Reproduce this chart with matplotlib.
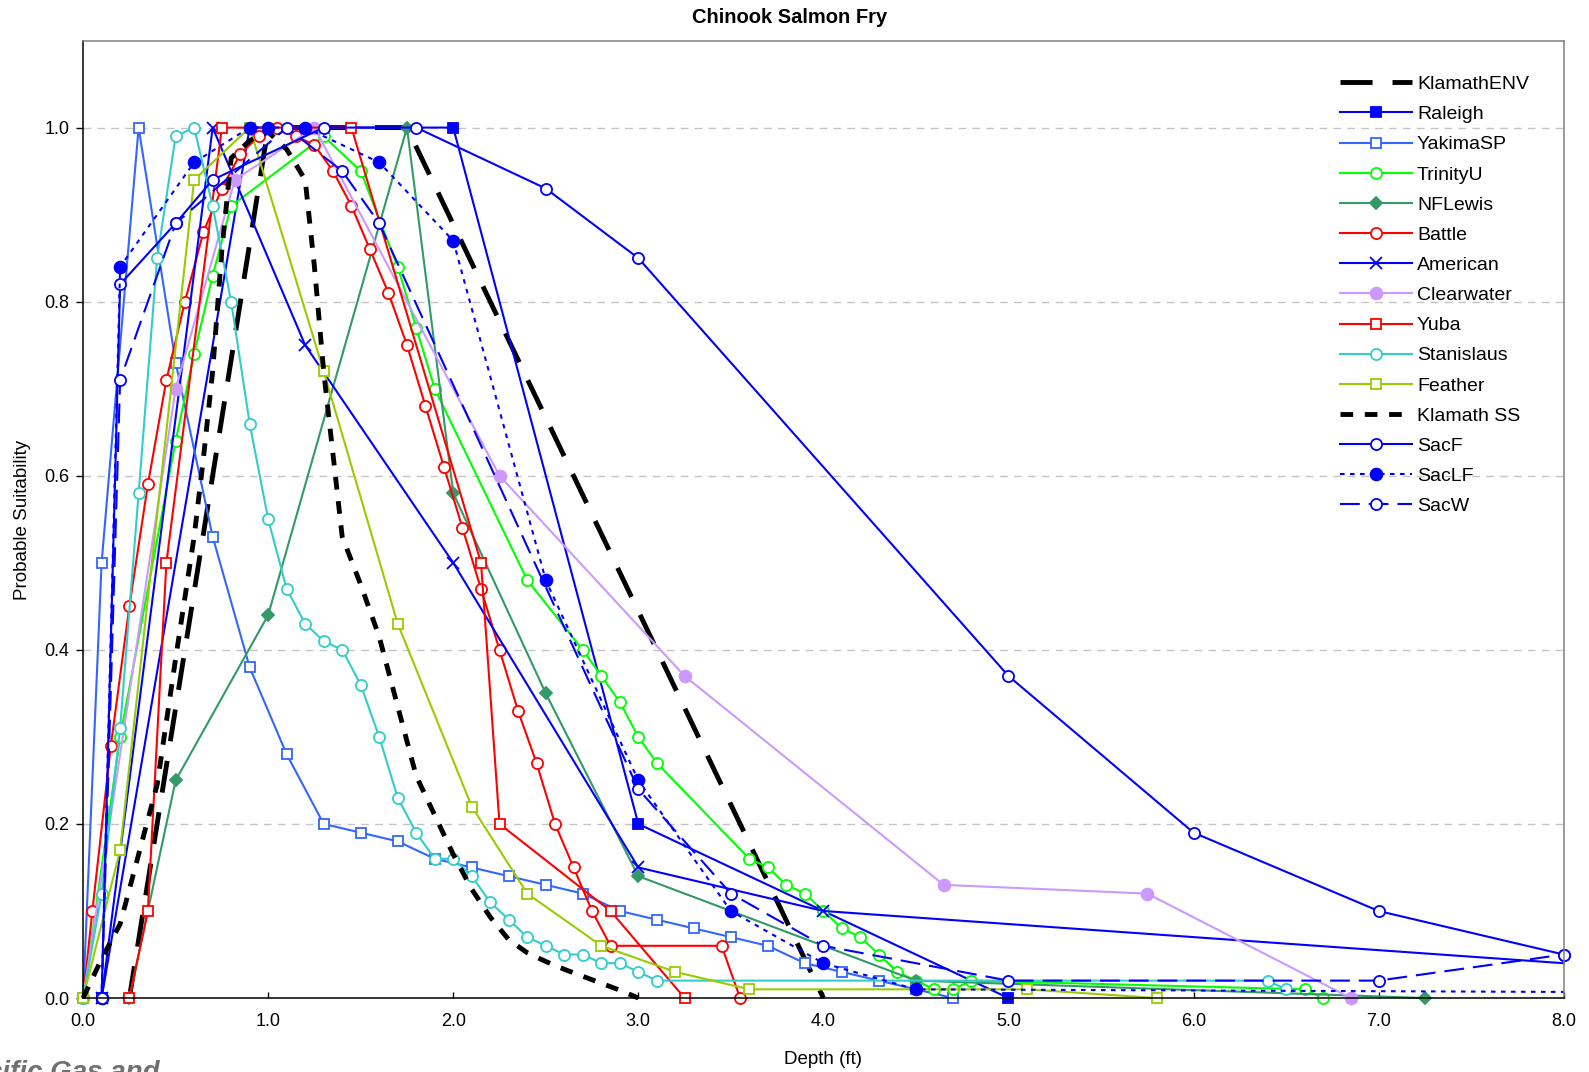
import matplotlib
matplotlib.use("Agg")
import matplotlib.pyplot as plt

plt.rcParams['font.family'] = ['Liberation Sans', 'DejaVu Sans']

# ---------------- data ----------------
klamath_env_x = [0.25, 1.0, 1.75, 4.0]
klamath_env_y = [0.0, 1.0, 1.0, 0.0]

raleigh_x = [0.1, 0.9, 2.0, 3.0, 5.0]
raleigh_y = [0.0, 1.0, 1.0, 0.2, 0.0]

yakima_x = [0.0, 0.1, 0.3, 0.5, 0.7, 0.9, 1.1, 1.3, 1.5, 1.7, 1.9, 2.1, 2.3,
            2.5, 2.7, 2.9, 3.1, 3.3, 3.5, 3.7, 3.9, 4.1, 4.3, 4.5, 4.7]
yakima_y = [0.0, 0.5, 1.0, 0.73, 0.53, 0.38, 0.28, 0.20, 0.19, 0.18, 0.16, 0.15, 0.14,
            0.13, 0.12, 0.10, 0.09, 0.08, 0.07, 0.06, 0.04, 0.03, 0.02, 0.01, 0.0]

trinity_x = [0.0, 0.2, 0.5, 0.6, 0.7, 0.8, 1.3, 1.5, 1.7, 1.8, 1.9, 2.4, 2.7, 2.8, 2.9,
             3.0, 3.1, 3.6, 3.7, 3.8, 3.9, 4.0, 4.1, 4.2, 4.3, 4.4, 4.5, 4.6, 4.7, 4.8,
             6.6, 6.7]
trinity_y = [0.0, 0.30, 0.64, 0.74, 0.83, 0.91, 0.99, 0.95, 0.84, 0.77, 0.70, 0.48, 0.40,
             0.37, 0.34, 0.30, 0.27, 0.16, 0.15, 0.13, 0.12, 0.10, 0.08, 0.07, 0.05, 0.03,
             0.02, 0.01, 0.01, 0.02, 0.01, 0.0]

nflewis_x = [0.25, 0.5, 1.0, 1.75, 2.0, 2.5, 3.0, 4.5, 7.25]
nflewis_y = [0.0, 0.25, 0.44, 1.0, 0.58, 0.35, 0.14, 0.02, 0.0]

battle_x = [0.0, 0.05, 0.15, 0.25, 0.35, 0.45, 0.55, 0.65, 0.75, 0.85, 0.95, 1.05, 1.15,
            1.25, 1.35, 1.45, 1.55, 1.65, 1.75, 1.85, 1.95, 2.05, 2.15, 2.25, 2.35, 2.45,
            2.55, 2.65, 2.75, 2.85, 3.45, 3.55]
battle_y = [0.0, 0.10, 0.29, 0.45, 0.59, 0.71, 0.80, 0.88, 0.93, 0.97, 0.99, 1.0, 0.99,
            0.98, 0.95, 0.91, 0.86, 0.81, 0.75, 0.68, 0.61, 0.54, 0.47, 0.40, 0.33, 0.27,
            0.20, 0.15, 0.10, 0.06, 0.06, 0.0]

american_x = [0.1, 0.7, 1.2, 2.0, 3.0, 4.0, 8.0]
american_y = [0.0, 1.0, 0.75, 0.5, 0.15, 0.10, 0.04]

clearwater_x = [0.0, 0.5, 0.82, 1.25, 2.25, 3.25, 4.65, 5.75, 6.85]
clearwater_y = [0.0, 0.70, 0.94, 1.0, 0.60, 0.37, 0.13, 0.12, 0.0]

yuba_x = [0.25, 0.35, 0.45, 0.75, 1.45, 2.15, 2.25, 2.85, 3.25]
yuba_y = [0.0, 0.10, 0.50, 1.0, 1.0, 0.50, 0.20, 0.10, 0.0]

stanislaus_x = [0.0, 0.1, 0.2, 0.3, 0.4, 0.5, 0.6, 0.7, 0.8, 0.9, 1.0, 1.1, 1.2, 1.3,
                1.4, 1.5, 1.6, 1.7, 1.8, 1.9, 2.0, 2.1, 2.2, 2.3, 2.4, 2.5, 2.6, 2.7,
                2.8, 2.9, 3.0, 3.1, 6.4, 6.5]
stanislaus_y = [0.0, 0.12, 0.31, 0.58, 0.85, 0.99, 1.0, 0.91, 0.80, 0.66, 0.55, 0.47,
                0.43, 0.41, 0.40, 0.36, 0.30, 0.23, 0.19, 0.16, 0.16, 0.14, 0.11, 0.09,
                0.07, 0.06, 0.05, 0.05, 0.04, 0.04, 0.03, 0.02, 0.02, 0.01]

feather_x = [0.0, 0.2, 0.6, 0.9, 1.3, 1.7, 2.1, 2.4, 2.8, 3.2, 3.6, 5.1, 5.8]
feather_y = [0.0, 0.17, 0.94, 1.0, 0.72, 0.43, 0.22, 0.12, 0.06, 0.03, 0.01, 0.01, 0.0]

klamath_ss_x = [0.0, 0.1, 0.2, 0.3, 0.4, 0.5, 0.6, 0.65, 0.7, 0.75, 0.8, 0.9, 1.0, 1.1,
                1.2, 1.25, 1.3, 1.4, 1.5, 1.6, 1.7, 1.8, 1.9, 2.0, 2.1, 2.2, 2.3, 2.4,
                2.5, 2.6, 2.7, 2.8, 2.9, 3.0]
klamath_ss_y = [0.0, 0.045, 0.085, 0.165, 0.245, 0.39, 0.53, 0.62, 0.72, 0.86, 0.965,
                0.985, 0.995, 0.975, 0.94, 0.84, 0.72, 0.53, 0.475, 0.415, 0.335, 0.255,
                0.21, 0.165, 0.125, 0.093, 0.067, 0.052, 0.042, 0.033, 0.025, 0.017,
                0.009, 0.0]

sacf_x = [0.1, 0.2, 0.5, 0.7, 1.3, 1.8, 2.5, 3.0, 5.0, 6.0, 7.0, 8.0]
sacf_y = [0.0, 0.82, 0.89, 0.94, 1.0, 1.0, 0.93, 0.85, 0.37, 0.19, 0.10, 0.05]

saclf_x = [0.1, 0.2, 0.6, 0.9, 1.0, 1.2, 1.6, 2.0, 2.5, 3.0, 3.5, 4.0, 4.5, 8.0]
saclf_y = [0.0, 0.84, 0.96, 1.0, 1.0, 1.0, 0.96, 0.87, 0.48, 0.25, 0.10, 0.04, 0.01, 0.007]

sacw_x = [0.1, 0.2, 0.5, 1.1, 1.4, 1.6, 3.0, 3.5, 4.0, 5.0, 7.0, 8.0]
sacw_y = [0.0, 0.71, 0.89, 1.0, 0.95, 0.89, 0.24, 0.12, 0.06, 0.02, 0.02, 0.05]

x_ticks = [0.0, 1.0, 2.0, 3.0, 4.0, 5.0, 6.0, 7.0, 8.0]
y_ticks = [0.0, 0.2, 0.4, 0.6, 0.8, 1.0]

# ---------------- figure ----------------
W, H = 1568.0, 1058.0
fig = plt.figure(figsize=(15.89, 10.72), dpi=100)
ax = fig.add_axes([82 / W, 1 - 985 / H, (1543 - 82) / W, (985 - 40) / H])

BLUE = '#0000FF'
LW = 1.5
MS = 8
MEW = 1.3

def series(x, y, label, color, marker=None, ls='-', lw=LW, dashes=None,
           filled=False, ms=MS, markevery=None):
    kw = dict(color=color, lw=lw, label=label, clip_on=False)
    if marker:
        kw.update(marker=marker, ms=ms, mew=MEW, mec=color,
                  mfc=color if filled else 'white')
    if markevery is not None:
        kw['markevery'] = markevery
    line, = ax.plot(x, y, ls, **kw)
    if dashes is not None:
        line.set_dashes(dashes)
    return line

series(klamath_env_x, klamath_env_y, 'KlamathENV', 'black', lw=3.5, ls='--',
       dashes=(6.6, 4.1))
series(raleigh_x, raleigh_y, 'Raleigh', BLUE, marker='s', filled=True, ms=7.5)
series(yakima_x, yakima_y, 'YakimaSP', '#3366FF', marker='s', ms=7.5)
series(trinity_x, trinity_y, 'TrinityU', '#00FF00', marker='o')
series(nflewis_x, nflewis_y, 'NFLewis', '#339966', marker='D', filled=True, ms=6.5)
series(battle_x, battle_y, 'Battle', '#FF0000', marker='o')
series(american_x, american_y, 'American', BLUE, marker='x', ms=8,
       markevery=list(range(len(american_x) - 1)))
series(clearwater_x, clearwater_y, 'Clearwater', '#CC99FF', marker='o', filled=True, ms=8.5)
series(yuba_x, yuba_y, 'Yuba', '#FF0000', marker='s', ms=7.5)
series(stanislaus_x, stanislaus_y, 'Stanislaus', '#33CCCC', marker='o')
series(feather_x, feather_y, 'Feather', '#99CC00', marker='s', ms=7.5)
series(klamath_ss_x, klamath_ss_y, 'Klamath SS', 'black', lw=3.5, ls='--',
       dashes=(2.6, 2.4))
series(sacf_x, sacf_y, 'SacF', BLUE, marker='o')
series(saclf_x, saclf_y, 'SacLF', BLUE, marker='o', filled=True, ms=8.5, ls='--',
       dashes=(2.2, 2.6), markevery=list(range(len(saclf_x) - 1)))
series(sacw_x, sacw_y, 'SacW', BLUE, marker='o', ls='--', dashes=(9.5, 4.3))

ax.set_xlim(0, 8)
ax.set_ylim(0, 1.1)
ax.set_xticks(x_ticks)
ax.set_yticks(y_ticks)
ax.set_xticklabels([f'{v:.1f}' for v in x_ticks])
ax.set_yticklabels([f'{v:.1f}' for v in y_ticks])
ax.tick_params(axis='x', direction='in', length=4.5, width=1, pad=11, labelsize=13)
ax.tick_params(axis='y', direction='out', length=5, width=1, pad=5, labelsize=13)

ax.yaxis.grid(True, color='#C4C4C4', lw=1.0, dashes=(5.5, 4.5))
ax.set_axisbelow(True)

for s in ['left', 'bottom']:
    ax.spines[s].set_color('black')
    ax.spines[s].set_linewidth(1.1)
for s in ['top', 'right']:
    ax.spines[s].set_color('#808080')
    ax.spines[s].set_linewidth(1.1)

leg = ax.legend(loc='upper left', bbox_to_anchor=(0.849, 0.9635), frameon=False,
                fontsize=14, handlelength=3.7, handletextpad=0.25, labelspacing=0.645,
                borderpad=0, borderaxespad=0, numpoints=1)

fig.text(779 / W, 1 - 17 / H, 'Chinook Salmon Fry', ha='center', va='center',
         fontsize=14.5, fontweight='bold')
fig.text(812.5 / W, 1 - 1046 / H, 'Depth (ft)', ha='center', va='center', fontsize=13.5)
fig.text(22 / W, 1 - 513 / H, 'Probable Suitability', ha='center', va='center',
         rotation=90, fontsize=13.5)
fig.text(158 / W, -0.0075, 'Pacific Gas and', ha='right', va='baseline',
         fontsize=20, fontweight='bold', fontstyle='italic', color='#707070')

fig.savefig('out.png', dpi=100)
